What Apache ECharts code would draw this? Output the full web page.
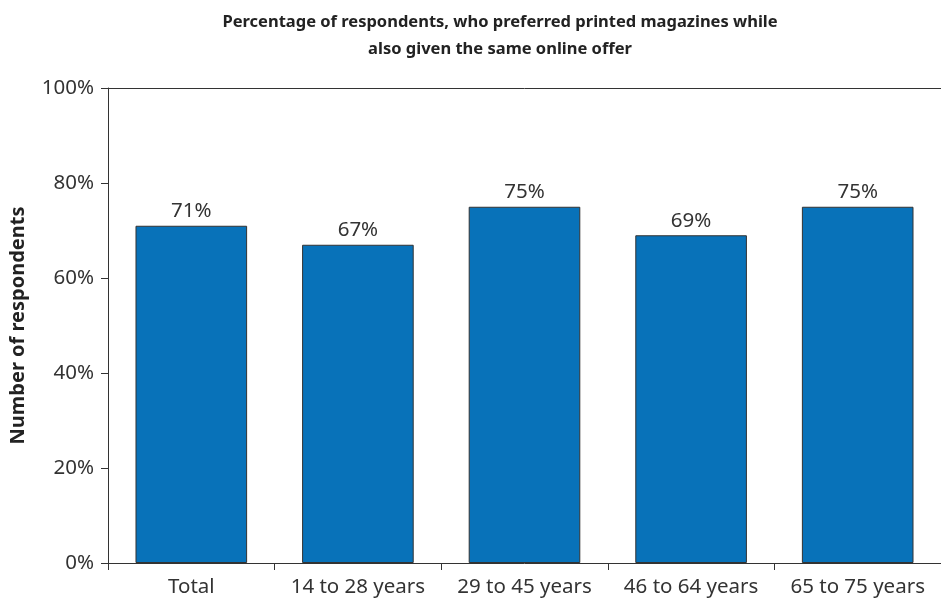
<!DOCTYPE html>
<html>
<head>
<meta charset="utf-8">
<script src="https://cdn.jsdelivr.net/npm/echarts@6/dist/echarts.min.js"></script>
<style>
html,body{margin:0;padding:0;background:#fff;}
#chart{width:941px;height:600px;}
</style>
</head>
<body>
<div id="chart"></div>
<script>
// Share of respondents preferring printed magazines, by age group
const categories = ['Total', '14 to 28 years', '29 to 45 years', '46 to 64 years', '65 to 75 years'];
const values = [71, 67, 75, 69, 75];
const yTicks = [0, 20, 40, 60, 80, 100];

const font = '"Noto Sans", "Open Sans", sans-serif';
const chart = echarts.init(document.getElementById('chart'));
chart.setOption({
  animation: false,
  title: {
    text: 'Percentage of respondents, who preferred printed magazines while\nalso given the same online offer',
    left: 495,
    textAlign: 'center',
    top: 4,
    textStyle: { fontFamily: font, fontSize: 16.5, fontWeight: 'bold', color: '#222', lineHeight: 27 }
  },
  grid: { left: 108, top: 88, width: 838, height: 475 },
  xAxis: [{
    type: 'category',
    data: categories,
    axisLine: { lineStyle: { color: '#333', width: 1 } },
    axisTick: { show: true, interval: 0, length: 7, lineStyle: { color: '#333' } },
    axisLabel: { interval: 0, fontFamily: font, fontSize: 20.5, color: '#333', margin: 14 }
  }, {
    type: 'category',
    data: categories,
    position: 'top',
    axisLine: { show: true, lineStyle: { color: '#333', width: 1 } },
    axisTick: { show: false },
    axisLabel: { show: false }
  }],
  yAxis: {
    type: 'value',
    min: yTicks[0],
    max: yTicks[yTicks.length - 1],
    interval: 20,
    name: 'Number of respondents',
    nameLocation: 'middle',
    nameGap: 80,
    nameTextStyle: { fontFamily: font, fontSize: 20, fontWeight: 'bold', color: '#222' },
    axisLine: { show: true, lineStyle: { color: '#333' } },
    axisTick: { show: true, length: 7, lineStyle: { color: '#333' } },
    splitLine: { show: false },
    axisLabel: { fontFamily: font, fontSize: 20.5, color: '#333', margin: 14, formatter: '{value}%' }
  },
  series: [{
    type: 'bar',
    data: values,
    barWidth: '67%',
    itemStyle: { color: '#0872b9', borderColor: '#333', borderWidth: 1 },
    label: {
      show: true,
      position: 'top',
      distance: 4,
      formatter: '{c}%',
      fontFamily: font,
      fontSize: 20.5,
      color: '#333'
    }
  }]
});
</script>
</body>
</html>
